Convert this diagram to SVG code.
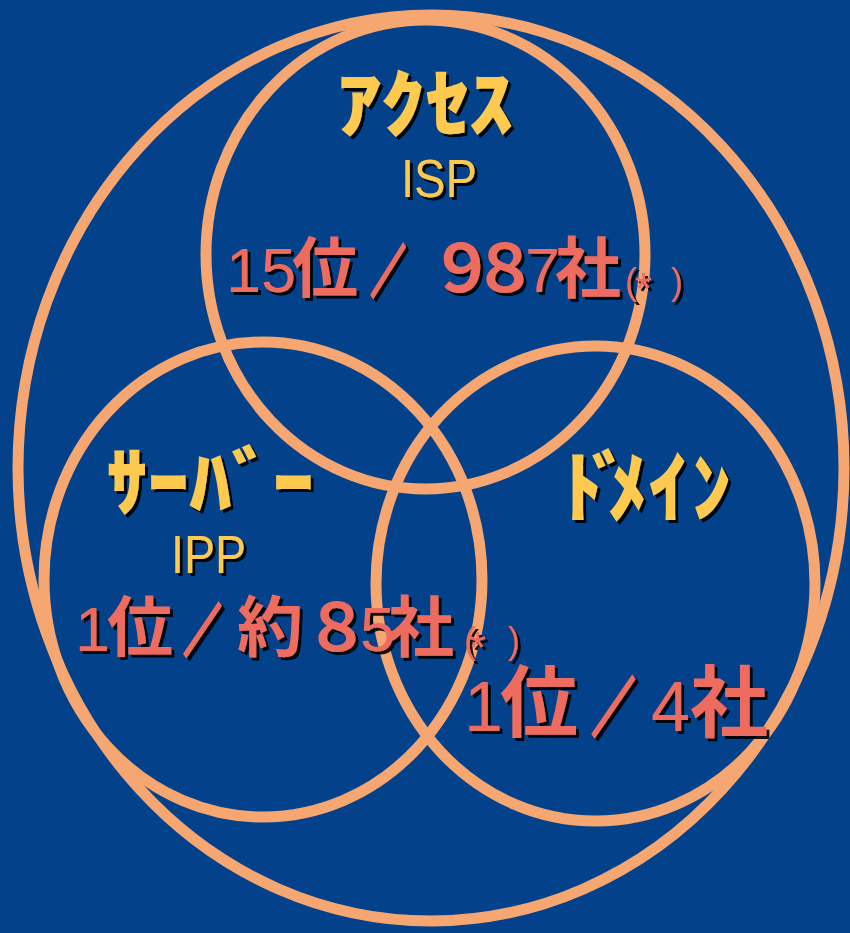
<svg xmlns="http://www.w3.org/2000/svg" width="850" height="933" viewBox="0 0 850 933">
<defs>
<filter id="sh" x="-10%" y="-10%" width="130%" height="130%">
<feDropShadow dx="3" dy="3" stdDeviation="0.4" flood-color="#000" flood-opacity="0.9"/>
</filter>
<filter id="shs" x="-20%" y="-20%" width="160%" height="160%">
<feDropShadow dx="5.8" dy="3.6" stdDeviation="0.4" flood-color="#000" flood-opacity="0.9"/>
</filter>
<style>
.ring{fill:none;stroke:#F5A671;stroke-width:11}
.head{font-family:"Noto Sans CJK JP","Noto Sans CJK SC",sans-serif;font-weight:900;fill:#FDCA4F;filter:url(#sh)}
.sub{font-family:"Liberation Sans",Arial,sans-serif;fill:#FDCA4F;filter:url(#sh)}
.num{fill:#EE6C5E;filter:url(#sh)}
.lat{font-family:"Liberation Sans",Arial,sans-serif}
.cjk{font-family:"Noto Sans CJK JP","Noto Sans CJK SC",sans-serif;font-weight:bold}
.sl{font-family:"Noto Sans CJK JP","Noto Sans CJK SC",sans-serif;font-weight:bold;fill:#EE6C5E;stroke:#EE6C5E;stroke-width:5;filter:url(#shs)}
</style>
</defs>
<rect width="850" height="933" fill="#03418A"/>
<g id="circles">
<ellipse id="outer" class="ring" cx="431" cy="468" rx="413" ry="453"/>
<ellipse id="access-circle" class="ring" cx="425.5" cy="254.5" rx="219.5" ry="234.5"/>
<ellipse id="server-circle" class="ring" cx="263" cy="579.5" rx="219" ry="237.5"/>
<ellipse id="domain-circle" class="ring" cx="595.5" cy="583.5" rx="219.5" ry="237.5"/>
</g>
<g id="access">
<text class="head" x="337" y="131" font-size="74" textLength="176" lengthAdjust="spacingAndGlyphs">ｱｸｾｽ</text>
<text class="sub" x="401" y="197" font-size="54" textLength="76" lengthAdjust="spacingAndGlyphs">ISP</text>
<text class="num" y="292" font-size="63">
<tspan class="lat" x="226">15</tspan><tspan class="cjk" x="292" font-size="66">位</tspan><tspan class="cjk" x="429" font-size="66">９</tspan><tspan class="cjk" x="472" font-size="66">８</tspan><tspan class="lat" x="525">7</tspan><tspan class="cjk" x="555" font-size="66">社</tspan><tspan class="lat" x="625" y="294" font-size="36">(</tspan><tspan class="lat" x="635" y="304" font-size="44">*</tspan><tspan class="lat" x="671" y="294" font-size="36">)</tspan>
</text>
<text class="sl" transform="translate(371,291) scale(0.52,0.83)" font-size="66">／</text>
</g>
<g id="server">
<text class="head" x="106" y="510" font-size="76" textLength="208" lengthAdjust="spacingAndGlyphs">ｻｰﾊﾞｰ</text>
<text class="sub" x="171" y="573" font-size="53" textLength="75" lengthAdjust="spacingAndGlyphs">IPP</text>
<text class="num" y="651" font-size="63">
<tspan class="lat" x="75">1</tspan><tspan class="cjk" x="107" font-size="66">位</tspan><tspan class="cjk" x="237" font-size="66">約</tspan><tspan class="cjk" x="304" font-size="66">８</tspan><tspan class="lat" x="360">5</tspan><tspan class="cjk" x="388" font-size="66">社</tspan><tspan class="lat" x="464" y="653" font-size="36">(</tspan><tspan class="lat" x="469" y="663" font-size="44">*</tspan><tspan class="lat" x="508" y="653" font-size="36">)</tspan>
</text>
<text class="sl" transform="translate(184,650) scale(0.56,0.83)" font-size="66">／</text>
</g>
<g id="domain">
<text class="head" y="516" font-size="78"><tspan x="563">ﾄ</tspan><tspan x="591">ﾞ</tspan><tspan x="608">ﾒ</tspan><tspan x="648">ｲ</tspan><tspan x="692">ﾝ</tspan></text>
<text class="num" y="731" font-size="70">
<tspan class="lat" x="464">1</tspan><tspan class="cjk" x="500" font-size="78">位</tspan><tspan class="lat" x="651">4</tspan><tspan class="cjk" x="690" font-size="78">社</tspan>
</text>
<text class="sl" transform="translate(592,731) scale(0.55,0.8)" font-size="78">／</text>
</g>
</svg>
